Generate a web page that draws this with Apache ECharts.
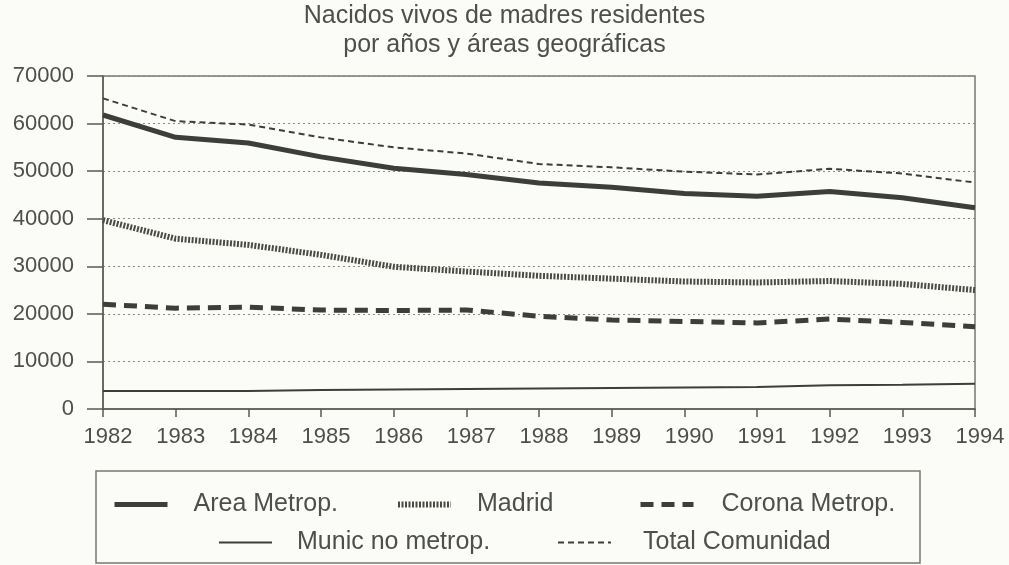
<!DOCTYPE html>
<html>
<head>
<meta charset="utf-8">
<script src="https://cdn.jsdelivr.net/npm/echarts@6/dist/echarts.min.js"></script>
<style>
  html, body { margin: 0; padding: 0; background: #fbfbf8; }
  #chart { width: 1009px; height: 565px; }
</style>
</head>
<body>
<div id="chart"></div>
<script>
// años
const years = ['1982', '1983', '1984', '1985', '1986', '1987', '1988', '1989', '1990', '1991', '1992', '1993', '1994'];

// nacidos vivos por área
const areaMetrop = [61800, 57100, 55900, 53000, 50600, 49300, 47500, 46600, 45300, 44700, 45700, 44400, 42300];
const madrid = [39700, 35800, 34500, 32400, 29900, 28900, 28000, 27400, 26800, 26600, 26900, 26300, 25000];
const coronaMetrop = [22000, 21200, 21400, 20800, 20700, 20800, 19500, 18700, 18400, 18100, 18900, 18200, 17300];
const municNoMetrop = [3800, 3800, 3800, 4000, 4100, 4200, 4300, 4400, 4500, 4600, 5000, 5100, 5300];
const totalComunidad = [65300, 60500, 59800, 57100, 55000, 53700, 51500, 50800, 49900, 49300, 50500, 49500, 47600];

const yTicks = { min: 0, max: 70000, interval: 10000 };

const ink = '#3c3e3a';
const textColor = '#4d504a';
const font = '"Liberation Sans", Arial, sans-serif';

const chart = echarts.init(document.getElementById('chart'));

// una leyenda por elemento, para colocarlos como en el original
function legendItem(name, left, top, width, gap) {
  return {
    data: [name],
    left: left,
    top: top,
    padding: 0,
    itemWidth: 53,
    itemHeight: 14,
    lineStyle: { width: width },
    itemStyle: { opacity: 0 },
    selectedMode: false,
    textStyle: { fontFamily: font, fontSize: 25, color: textColor, padding: [0, 0, 0, gap - 5] }
  };
}

const options = {
  backgroundColor: '#fbfbf8',
  animation: false,
  title: {
    text: 'Nacidos vivos de madres residentes\npor años y áreas geográficas',
    left: 'center',
    top: 2,
    padding: 0,
    textStyle: { fontFamily: font, fontSize: 25, fontWeight: 'normal', color: textColor, lineHeight: 29 }
  },
  graphic: [{
    type: 'rect',
    shape: { x: 96, y: 471, width: 824, height: 92 },
    style: { fill: 'none', stroke: '#77786f', lineWidth: 1.5 }
  }],
  legend: [
    legendItem('Area Metrop.', 112, 492, 5, 26),
    legendItem('Madrid', 395, 492, 6, 26),
    legendItem('Corona Metrop.', 638, 492, 5, 28),
    legendItem('Munic no metrop.', 218, 530, 2, 25),
    legendItem('Total Comunidad', 557, 530, 2, 32)
  ],
  grid: {
    left: 103, right: 34, top: 76, bottom: 156,
    show: true, borderColor: '#77786f', borderWidth: 1.5, backgroundColor: 'transparent'
  },
  xAxis: {
    type: 'category',
    data: years,
    boundaryGap: false,
    axisLine: { lineStyle: { color: '#5a5b56', width: 1.5 } },
    axisTick: { alignWithLabel: true, length: 8, lineStyle: { color: '#5a5b56', width: 1.5 } },
    axisLabel: { fontFamily: font, fontSize: 22, color: textColor, margin: 17, padding: [0, 0, 0, 10] },
    splitLine: { show: false }
  },
  yAxis: {
    type: 'value',
    min: yTicks.min,
    max: yTicks.max,
    interval: yTicks.interval,
    axisLine: { show: true, lineStyle: { color: '#5a5b56', width: 1.5 } },
    axisTick: { show: true, length: 16, lineStyle: { color: '#5a5b56', width: 1.5 } },
    axisLabel: { fontFamily: font, fontSize: 22, color: textColor, margin: 29, formatter: (v) => String(v) },
    splitLine: { lineStyle: { color: '#8a8b85', type: [2, 3], width: 1 } }
  },
  series: [
    {
      name: 'Area Metrop.', type: 'line', data: areaMetrop, symbol: 'none',
      lineStyle: { color: ink, width: 5 }, itemStyle: { color: ink }
    },
    {
      name: 'Madrid', type: 'line', data: madrid, symbol: 'none',
      lineStyle: { color: '#4a4b45', width: 6, type: [2, 1.5] }, itemStyle: { color: '#4a4b45' }
    },
    {
      name: 'Corona Metrop.', type: 'line', data: coronaMetrop, symbol: 'none',
      lineStyle: { color: ink, width: 5, type: [13, 8] }, itemStyle: { color: ink }
    },
    {
      name: 'Munic no metrop.', type: 'line', data: municNoMetrop, symbol: 'none',
      lineStyle: { color: ink, width: 2 }, itemStyle: { color: ink }
    },
    {
      name: 'Total Comunidad', type: 'line', data: totalComunidad, symbol: 'none',
      lineStyle: { color: ink, width: 2, type: [6, 4] }, itemStyle: { color: ink }
    }
  ]
};

chart.setOption(options);
window.addEventListener('resize', () => { chart.resize(); });
</script>
</body>
</html>
